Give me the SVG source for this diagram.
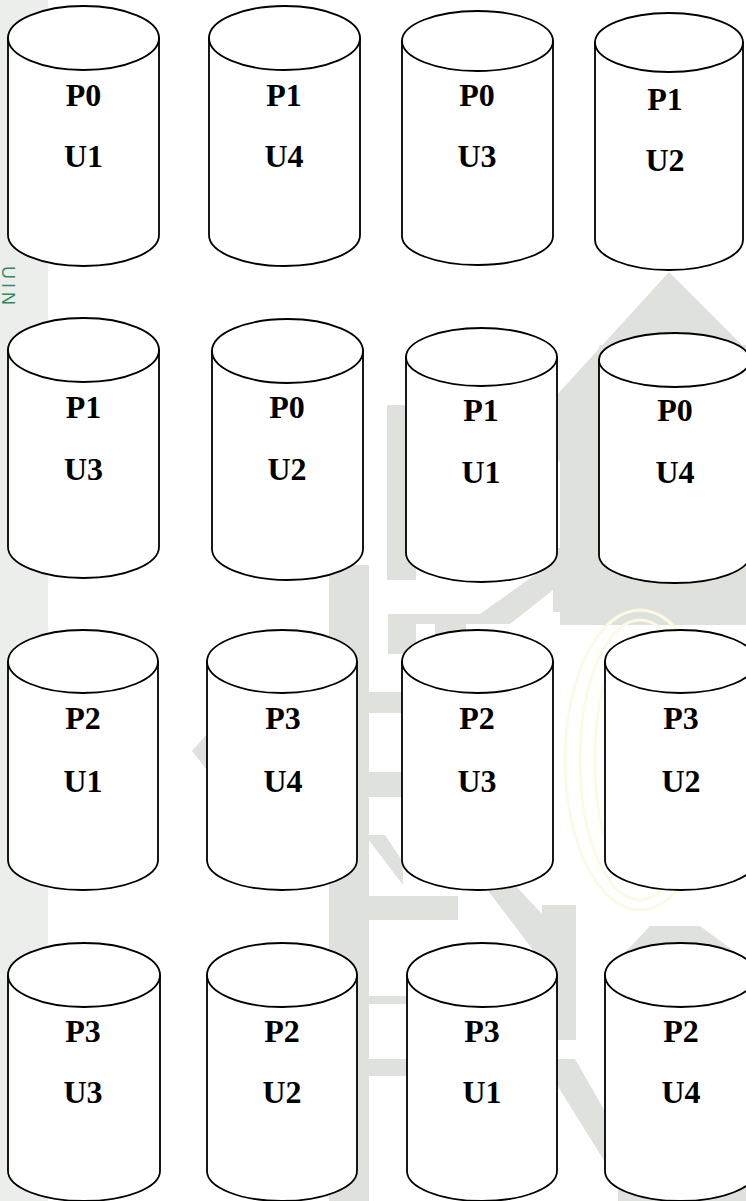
<svg xmlns="http://www.w3.org/2000/svg" width="746" height="1201" viewBox="0 0 746 1201">
<style>
.wm{fill:#dfe1dd;stroke:none}
.sw{fill:none;stroke:#fcfae6;stroke-width:3}
.cyl{fill:#ffffff;stroke:#000000;stroke-width:1.8}
.lbl{font-family:"Liberation Serif","Times New Roman",serif;font-weight:bold;font-size:32px;fill:#000000;text-anchor:middle}
</style>
<rect x="0" y="0" width="746" height="1201" fill="#ffffff"/>
<g id="watermark">
  <rect x="0" y="0" width="48" height="1201" fill="#eceeec"/>
  <text transform="translate(2,266) rotate(90)" font-family="'Liberation Sans',Arial,sans-serif" font-size="18" letter-spacing="4" fill="#2e8b5e">UIN</text>
  <polygon class="wm" points="669,272 760,363 760,440 669,345 480,545 420,545"/>
  <polygon class="wm" points="600,345 760,345 760,625 560,625 560,430"/>
  <rect class="wm" x="387" y="405" width="22" height="175"/>
  <rect class="wm" x="329" y="565" width="40" height="636"/>
  <rect class="wm" x="388" y="540" width="28" height="40"/>
  <rect class="wm" x="553" y="548" width="30" height="64"/>
  <polygon class="wm" points="388,614 480,614 553,562 553,590 510,624 388,624"/>
  <rect class="wm" x="388" y="624" width="28" height="30"/>
  <rect class="wm" x="435" y="618" width="31" height="32"/>
  <rect class="wm" x="357" y="692" width="46" height="21"/>
  <rect class="wm" x="357" y="772" width="46" height="25"/>
  <polygon class="wm" points="365,835 385,835 403,862 403,885"/>
  <polygon class="wm" points="192,751 215,725 215,780"/>
  <rect class="wm" x="369" y="896" width="89" height="24"/>
  <polygon class="wm" points="480,880 510,880 576,950 576,1040 542,1040 542,962"/>
  <rect class="wm" x="542" y="905" width="34" height="135"/>
  <polygon class="wm" points="618,960 650,926 700,926 746,960 746,1201 618,1201"/>
  <rect class="wm" x="357" y="996" width="53" height="8"/>
  <rect class="wm" x="357" y="1059" width="53" height="17"/>
  <polygon class="wm" points="557,1059 575,1059 610,1120 610,1170 557,1085"/>
  <ellipse class="sw" cx="640" cy="760" rx="30" ry="110"/>
  <ellipse class="sw" cx="640" cy="760" rx="45" ry="125"/>
  <ellipse class="sw" cx="640" cy="760" rx="60" ry="140"/>
  <ellipse class="sw" cx="640" cy="760" rx="75" ry="150"/>
</g>
<g id="connectors"></g>
<g id="c1"><path class="cyl" d="M8,38 V235 A75.5,31 0 0 0 159,235 V38 Z"/><ellipse class="cyl" cx="83.5" cy="38" rx="75.5" ry="32"/><text class="lbl" x="83.5" y="106">P0</text><text class="lbl" x="83.5" y="167">U1</text></g>
<g id="c2"><path class="cyl" d="M209,38 V235 A75.5,31 0 0 0 360,235 V38 Z"/><ellipse class="cyl" cx="284.5" cy="38" rx="75.5" ry="32"/><text class="lbl" x="284" y="106">P1</text><text class="lbl" x="284" y="167">U4</text></g>
<g id="c3"><path class="cyl" d="M402,41 V236 A75.5,29 0 0 0 553,236 V41 Z"/><ellipse class="cyl" cx="477.5" cy="41" rx="75.5" ry="30"/><text class="lbl" x="477" y="106">P0</text><text class="lbl" x="477" y="167">U3</text></g>
<g id="c4"><path class="cyl" d="M595,42.5 V240 A74,30 0 0 0 743,240 V42.5 Z"/><ellipse class="cyl" cx="669" cy="42.5" rx="74" ry="29.5"/><text class="lbl" x="665" y="110">P1</text><text class="lbl" x="665" y="171">U2</text></g>
<g id="c5"><path class="cyl" d="M8,350 V547 A75.5,31 0 0 0 159,547 V350 Z"/><ellipse class="cyl" cx="83.5" cy="350" rx="75.5" ry="32"/><text class="lbl" x="83.5" y="418">P1</text><text class="lbl" x="83.5" y="480">U3</text></g>
<g id="c6"><path class="cyl" d="M212,351 V549 A75.5,31 0 0 0 363,549 V351 Z"/><ellipse class="cyl" cx="287.5" cy="351" rx="75.5" ry="32"/><text class="lbl" x="287" y="418">P0</text><text class="lbl" x="287" y="480">U2</text></g>
<g id="c7"><path class="cyl" d="M406,357 V553 A75.5,29 0 0 0 557,553 V357 Z"/><ellipse class="cyl" cx="481.5" cy="357" rx="75.5" ry="29"/><text class="lbl" x="481" y="421">P1</text><text class="lbl" x="481" y="483">U1</text></g>
<g id="c8"><path class="cyl" d="M599,360 V555 A75.5,28 0 0 0 750,555 V360 Z"/><ellipse class="cyl" cx="674.5" cy="360" rx="75.5" ry="27"/><text class="lbl" x="675" y="421">P0</text><text class="lbl" x="675" y="483">U4</text></g>
<g id="c9"><path class="cyl" d="M8,661.5 V860 A75,30 0 0 0 158,860 V661.5 Z"/><ellipse class="cyl" cx="83" cy="661.5" rx="75" ry="31.5"/><text class="lbl" x="83" y="729">P2</text><text class="lbl" x="83" y="792">U1</text></g>
<g id="c10"><path class="cyl" d="M207,661.5 V860 A75,30 0 0 0 357,860 V661.5 Z"/><ellipse class="cyl" cx="282" cy="661.5" rx="75" ry="31.5"/><text class="lbl" x="283" y="729">P3</text><text class="lbl" x="283" y="792">U4</text></g>
<g id="c11"><path class="cyl" d="M402,661.5 V860 A75.5,30 0 0 0 553,860 V661.5 Z"/><ellipse class="cyl" cx="477.5" cy="661.5" rx="75.5" ry="31.5"/><text class="lbl" x="477" y="729">P2</text><text class="lbl" x="477" y="792">U3</text></g>
<g id="c12"><path class="cyl" d="M605,661.5 V860 A75.5,30 0 0 0 756,860 V661.5 Z"/><ellipse class="cyl" cx="680.5" cy="661.5" rx="75.5" ry="31.5"/><text class="lbl" x="681" y="729">P3</text><text class="lbl" x="681" y="792">U2</text></g>
<g id="c13"><path class="cyl" d="M8,975 V1171 A76,30 0 0 0 160,1171 V975 Z"/><ellipse class="cyl" cx="84" cy="975" rx="76" ry="32"/><text class="lbl" x="83" y="1042">P3</text><text class="lbl" x="83" y="1103">U3</text></g>
<g id="c14"><path class="cyl" d="M207,975 V1171 A75,30 0 0 0 357,1171 V975 Z"/><ellipse class="cyl" cx="282" cy="975" rx="75" ry="32"/><text class="lbl" x="282" y="1042">P2</text><text class="lbl" x="282" y="1103">U2</text></g>
<g id="c15"><path class="cyl" d="M407,975 V1171 A75,30 0 0 0 557,1171 V975 Z"/><ellipse class="cyl" cx="482" cy="975" rx="75" ry="32"/><text class="lbl" x="482" y="1042">P3</text><text class="lbl" x="482" y="1103">U1</text></g>
<g id="c16"><path class="cyl" d="M605,975 V1171 A75.5,30 0 0 0 756,1171 V975 Z"/><ellipse class="cyl" cx="680.5" cy="975" rx="75.5" ry="32"/><text class="lbl" x="681" y="1042">P2</text><text class="lbl" x="681" y="1103">U4</text></g>
</svg>
